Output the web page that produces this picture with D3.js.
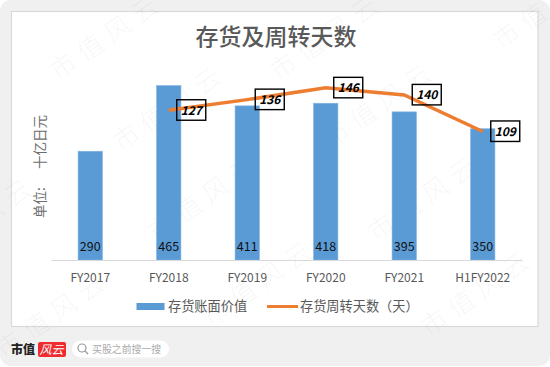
<!DOCTYPE html>
<html><head><meta charset="utf-8">
<script src="https://cdn.jsdelivr.net/npm/d3@7/dist/d3.min.js"></script>
<style>html,body{margin:0;padding:0;background:#fff}svg{display:block}text{font-family:"Noto Sans CJK SC","Open Sans",sans-serif}</style>
</head><body><div id="c"></div>
<script>
const categories=["FY2017","FY2018","FY2019","FY2020","FY2021","H1FY2022"];
const inventory=[290,465,411,418,395,350];
const daysCategories=["FY2018","FY2019","FY2020","FY2021","H1FY2022"];
const days=[127,136,146,140,109];
const titleText="存货及周转天数";
const yAxisTitle="单位:\u00a0\u00a0\u00a0\u00a0\u00a0\u00a0十亿日元";
const legendLabels=["存货账面价值","存货周转天数（天）"];
const watermarks=[[112,44,"市值风云"],[332,44,"市值风云"],[175,115,"市值风云"],[385,112,"市值风云"],[210,205,"市值风云"],[430,205,"市值风云"],[58,322,"市值风云"],[265,290,"市值风云"],[483,300,"市值风云"],[528,32,"市值"],[12,208,"风云"]];

const W=550,H=367;
const svg=d3.select("#c").append("svg").attr("width",W).attr("height",H);
svg.append("rect").attr("width",W).attr("height",H-1).attr("rx",11).attr("fill","#f0f0f0");
svg.append("rect").attr("x",11.5).attr("y",11.5).attr("width",526.5).attr("height",315).attr("fill","#fff").attr("stroke","#d9d9d9").attr("stroke-width",1.2);

// watermarks beneath the chart marks
svg.selectAll("text.wm").data(watermarks).join("text").attr("class","wm")
 .attr("transform",d=>`translate(${d[0]},${d[1]}) rotate(-35)`)
 .attr("text-anchor","middle").attr("font-size",26).attr("font-weight",300).attr("letter-spacing",7).attr("fill","#000").attr("fill-opacity",0.05).text(d=>d[2]);

const x=d3.scaleBand().domain(categories).range([51,522]).paddingInner(0.69).paddingOuter(0.345);
const y=d3.scaleLinear().domain([0,500]).range([260,72.5]);
const yDays=d3.scaleLinear().domain([0,159]).range([260,72.5]);
const cx=c=>x(c)+x.bandwidth()/2;

svg.selectAll("rect.bar").data(inventory).join("rect").attr("class","bar")
 .attr("x",(d,i)=>x(categories[i])).attr("y",d=>y(d)).attr("width",x.bandwidth()).attr("height",d=>y(0)-y(d))
 .attr("fill","#5b9bd5").attr("stroke","#7fb2e0").attr("stroke-width",0.6);

const axis=d3.axisBottom(x).tickSize(0).tickPadding(13);
const ag=svg.append("g").attr("transform","translate(0,260)").call(axis);
ag.select(".domain").attr("stroke","#d9d9d9").attr("stroke-width",1.2);
ag.selectAll("text").attr("font-family","'Open Sans',sans-serif").attr("font-size",12).attr("fill","#595959");

svg.selectAll("text.barlabel").data(inventory).join("text").attr("class","barlabel")
 .attr("x",(d,i)=>cx(categories[i])).attr("y",251).attr("text-anchor","middle")
 .attr("font-family","'Open Sans',sans-serif").attr("font-size",12.5).attr("fill","#111").text(d=>d);

const line=d3.line().x((d,i)=>cx(daysCategories[i])).y(d=>yDays(d));
svg.append("path").datum(days).attr("d",line).attr("fill","none").attr("stroke","#ed7d31").attr("stroke-width",3.5);

const lab=svg.selectAll("g.dl").data(days).join("g").attr("class","dl")
 .attr("transform",(d,i)=>`translate(${cx(daysCategories[i])+8},${yDays(d)})`);
lab.append("rect").attr("x",0).attr("y",-10.5).attr("width",29).attr("height",20.5).attr("fill","none").attr("stroke","#000").attr("stroke-width",1.4);
lab.append("text").attr("x",14.5).attr("y",4.5).attr("text-anchor","middle").attr("font-family","'Open Sans',sans-serif")
 .attr("font-size",12).attr("font-weight",700).attr("font-style","italic").attr("fill","#000").text(d=>d);

svg.append("text").attr("x",276).attr("y",45).attr("text-anchor","middle").attr("font-size",23).attr("font-weight",500).attr("fill","#595959").text(titleText);
svg.append("text").attr("transform","translate(45,115) rotate(-90)").attr("text-anchor","end").attr("font-size",13.5).attr("fill","#6e6e6e").text(yAxisTitle);

svg.append("rect").attr("x",136.5).attr("y",303).attr("width",28).attr("height",7).attr("fill","#5b9bd5");
svg.append("text").attr("x",168).attr("y",310.5).attr("font-size",13.2).attr("fill","#595959").text(legendLabels[0]);
svg.append("line").attr("x1",267).attr("x2",298).attr("y1",306.5).attr("y2",306.5).attr("stroke","#ed7d31").attr("stroke-width",3);
svg.append("text").attr("x",300).attr("y",310.5).attr("font-size",13.2).attr("fill","#595959").text(legendLabels[1]);

// footer
svg.append("text").attr("x",11).attr("y",354).attr("font-family","'Noto Serif CJK SC','Noto Sans CJK SC',serif").attr("font-size",12).attr("font-weight",900).attr("fill","#222").text("市值");
svg.append("rect").attr("x",38).attr("y",342).attr("width",28).attr("height",15).attr("rx",2).attr("fill","#ee2b2f");
svg.append("text").attr("x",39.5).attr("y",354).attr("font-size",12).attr("font-style","italic").attr("fill","#fff").text("风云");
svg.append("rect").attr("x",72).attr("y",340.5).attr("width",97).attr("height",17).attr("rx",8.5).attr("fill","#fff");
svg.append("circle").attr("cx",82).attr("cy",348).attr("r",4).attr("fill","none").attr("stroke","#999").attr("stroke-width",1.2);
svg.append("line").attr("x1",85).attr("y1",351).attr("x2",88).attr("y2",354).attr("stroke","#999").attr("stroke-width",1.2);
svg.append("text").attr("x",92).attr("y",352.5).attr("font-size",9.9).attr("fill","#aaa").text("买股之前搜一搜");
</script></body></html>
